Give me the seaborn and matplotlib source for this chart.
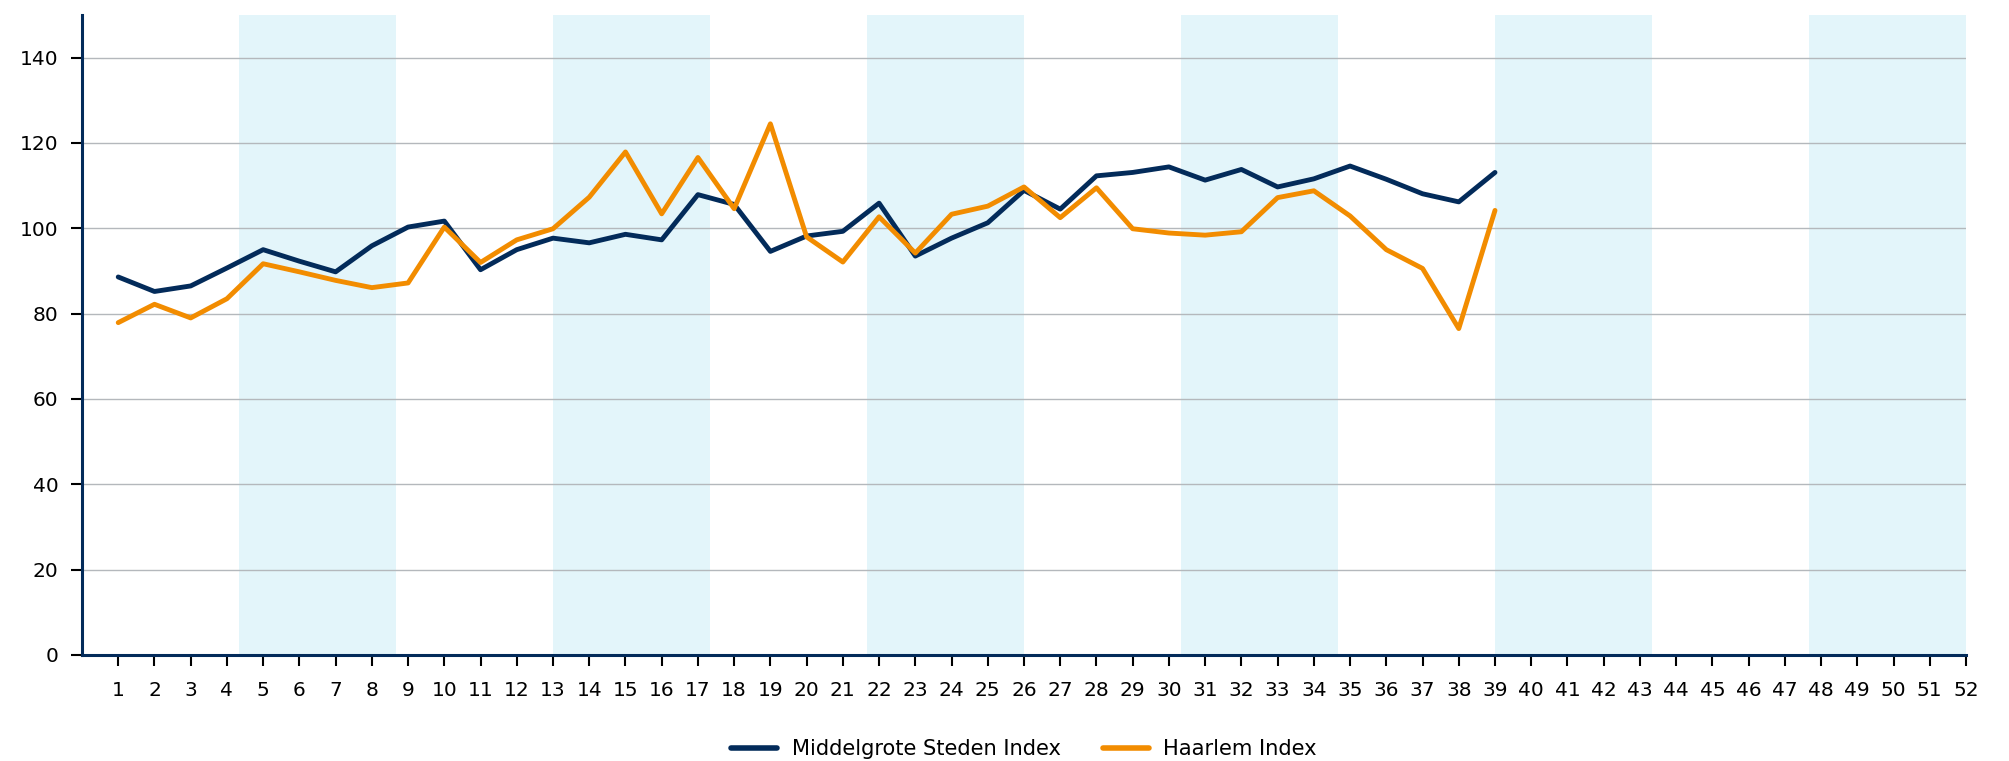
import matplotlib
matplotlib.use("Agg")
import matplotlib.pyplot as plt
import seaborn as sns
import pandas as pd
import numpy as np

weeks = list(range(1, 40))
week_ticks = list(range(1, 53))
msi_values = [88.6, 85.2, 86.5, 90.7, 95.0, 92.3, 89.8, 95.9, 100.3, 101.7,
              90.3, 95.0, 97.7, 96.6, 98.6, 97.3, 107.9, 105.6, 94.6, 98.2,
              99.3, 105.9, 93.5, 97.7, 101.3, 108.9, 104.5, 112.3, 113.1, 114.4,
              111.3, 113.8, 109.7, 111.6, 114.6, 111.5, 108.1, 106.2, 113.1]
haarlem_values = [77.9, 82.2, 79.0, 83.5, 91.7, 89.8, 87.8, 86.1, 87.2, 100.3,
                  92.0, 97.3, 99.9, 107.3, 117.9, 103.4, 116.6, 104.6, 124.5, 98.0,
                  92.1, 102.7, 94.2, 103.3, 105.2, 109.7, 102.5, 109.5, 99.9, 98.9,
                  98.4, 99.2, 107.2, 108.8, 102.9, 95.0, 90.6, 76.5, 104.2]
series_names = ["Middelgrote Steden Index", "Haarlem Index"]
colors = ["#032b5a", "#f28c00"]
y_ticks = [0, 20, 40, 60, 80, 100, 120, 140]

df = pd.DataFrame({
    "week": weeks * 2,
    "value": msi_values + haarlem_values,
    "series": [series_names[0]] * len(weeks) + [series_names[1]] * len(weeks),
})

sns.set_style("white")
plt.rcParams["font.family"] = ["DejaVu Sans"]

fig = plt.figure(figsize=(20.09, 7.61), dpi=100)
ax = fig.add_axes([82 / 2009, 1 - 655 / 761, (1966 - 82) / 2009, (655 - 15) / 761])

# alternating month bands (12 months over 52 weeks)
month_w = 52 / 12
for k in range(1, 12, 2):
    ax.axvspan(k * month_w, (k + 1) * month_w, color="#e3f5fa", lw=0, zorder=0)

for yv in y_ticks[1:]:
    ax.axhline(yv, color="#b4b8bc", lw=1.0, zorder=1)

sns.lineplot(data=df, x="week", y="value", hue="series", palette=colors,
             hue_order=series_names, linewidth=3.5, ax=ax, zorder=3, legend=True)

ax.set_xlim(0, 52)
ax.set_ylim(0, 150)
ax.set_xticks(week_ticks)
ax.set_xticklabels([str(w) for w in week_ticks])
ax.set_yticks(y_ticks)
ax.set_xlabel("")
ax.set_ylabel("")

for side in ["top", "right"]:
    ax.spines[side].set_visible(False)
for side in ["left", "bottom"]:
    ax.spines[side].set_visible(True)
    ax.spines[side].set_color("#032b5a")
    ax.spines[side].set_linewidth(2.2)
    ax.spines[side].set_zorder(5)

ax.tick_params(axis="x", which="major", bottom=True, length=8, width=1.5,
               color="black", pad=11, labelsize=14.5, labelcolor="black")
ax.tick_params(axis="y", which="major", left=True, length=8, width=1.5,
               color="black", pad=9, labelsize=14.5, labelcolor="black")

handles, labels = ax.get_legend_handles_labels()
ax.get_legend().remove()
leg = fig.legend(handles, labels, loc="center", bbox_to_anchor=(1024 / 2009, 1 - 749 / 761),
                 ncol=2, frameon=False, fontsize=15.1, handlelength=2.2,
                 handletextpad=0.7, columnspacing=2.0, labelcolor="black")
for line in leg.get_lines():
    line.set_linewidth(4.0)

fig.savefig("out.png", dpi=100, facecolor="white")
